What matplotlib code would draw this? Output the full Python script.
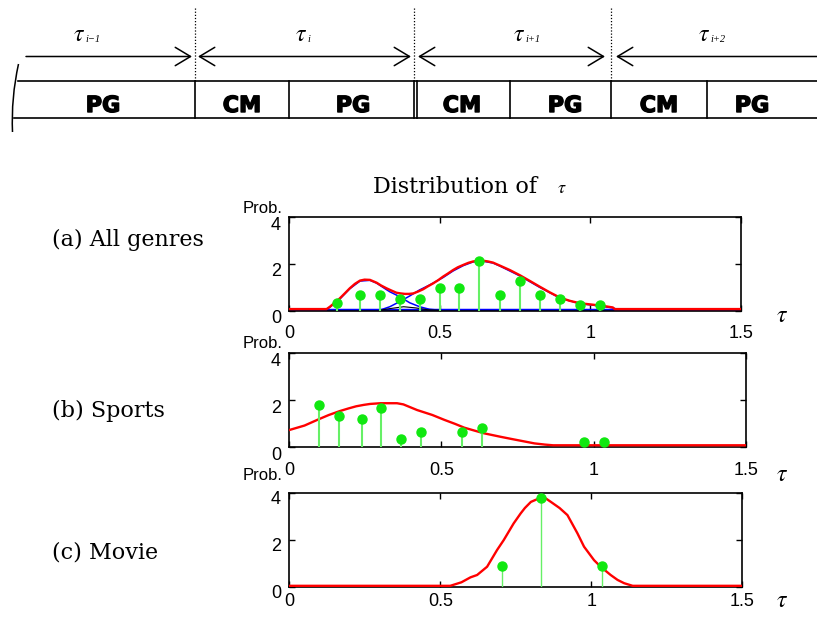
import matplotlib
matplotlib.use('Agg')
import matplotlib.pyplot as plt
import matplotlib.transforms as mtransforms
import matplotlib.patheffects as pe
from matplotlib.path import Path
from matplotlib.patches import PathPatch

# ---- data ----
# (a) All genres
a_tau = [0.16, 0.236, 0.302, 0.368, 0.435, 0.50, 0.565, 0.63, 0.70, 0.768, 0.834, 0.90, 0.966, 1.032]
a_prob = [0.35, 0.67, 0.67, 0.52, 0.49, 0.98, 0.98, 2.13, 0.67, 1.29, 0.67, 0.52, 0.23, 0.23]
a_fit_tau = [0, 0.124, 0.135, 0.15, 0.168, 0.185, 0.201, 0.218, 0.235, 0.25, 0.268, 0.29, 0.305,
             0.323, 0.34, 0.356, 0.37, 0.384, 0.398, 0.412, 0.428, 0.445, 0.46, 0.478, 0.495,
             0.511, 0.528, 0.544, 0.56, 0.578, 0.595, 0.611, 0.628, 0.644, 0.66, 0.677, 0.70,
             0.733, 0.766, 0.80, 0.832, 0.865, 0.898, 0.93, 0.965, 1.0, 1.02, 1.05, 1.075, 1.081, 1.5]
a_fit_prob = [0.07, 0.07, 0.17, 0.33, 0.53, 0.75, 0.96, 1.15, 1.29, 1.33, 1.32, 1.2, 1.08,
              0.96, 0.86, 0.77, 0.74, 0.72, 0.72, 0.74, 0.82, 0.92, 1.04, 1.17, 1.31,
              1.46, 1.6, 1.74, 1.86, 1.96, 2.05, 2.11, 2.14, 2.14, 2.11, 2.06, 1.93,
              1.74, 1.52, 1.27, 1.03, 0.79, 0.57, 0.43, 0.32, 0.27, 0.24, 0.19, 0.14, 0.07, 0.07]
a_comp1_tau = [0, 0.12, 0.135, 0.168, 0.201, 0.235, 0.268, 0.29, 0.323, 0.334, 0.367, 0.40, 0.433, 0.466, 0.5]
a_comp1_prob = [0.02, 0.02, 0.15, 0.5, 0.94, 1.27, 1.30, 1.18, 0.9, 0.81, 0.6, 0.34, 0.17, 0.06, 0.02]
a_comp2_tau = [0.30, 0.334, 0.367, 0.40, 0.433, 0.466, 0.511, 0.544, 0.578, 0.611, 0.644, 0.677,
               0.70, 0.766, 0.832, 0.898, 0.965, 1.02, 1.075, 1.1, 1.5]
a_comp2_prob = [0.02, 0.17, 0.39, 0.63, 0.89, 1.1, 1.42, 1.70, 1.93, 2.09, 2.12, 2.04,
                1.91, 1.49, 1.0, 0.55, 0.3, 0.22, 0.12, 0.02, 0.02]
a_comp3_tau = [0.30, 0.34, 0.38, 0.42, 0.46, 0.50]
a_comp3_prob = [0.02, 0.10, 0.17, 0.12, 0.04, 0.02]

# (b) Sports
b_tau = [0.097, 0.164, 0.238, 0.303, 0.368, 0.434, 0.566, 0.632, 0.968, 1.034]
b_prob = [1.79, 1.31, 1.17, 1.63, 0.33, 0.64, 0.64, 0.80, 0.19, 0.19]
b_fit_tau = [0, 0.05, 0.097, 0.13, 0.167, 0.195, 0.22, 0.245, 0.266, 0.30, 0.354, 0.375, 0.39,
             0.42, 0.47, 0.51, 0.545, 0.575, 0.61, 0.64, 0.695, 0.73, 0.762, 0.806, 0.84,
             0.867, 1.5]
b_fit_prob = [0.71, 0.9, 1.17, 1.35, 1.52, 1.63, 1.72, 1.78, 1.82, 1.85, 1.85, 1.80, 1.72,
              1.56, 1.35, 1.14, 0.97, 0.81, 0.68, 0.57, 0.42, 0.33, 0.25, 0.14, 0.09,
              0.06, 0.06]

# (c) Movie
c_tau = [0.705, 0.834, 1.035]
c_prob = [0.90, 3.76, 0.90]
c_fit_tau = [0, 0.533, 0.57, 0.60, 0.622, 0.655, 0.688, 0.71, 0.743, 0.766, 0.78, 0.80, 0.82,
             0.849, 0.865, 0.895, 0.921, 0.954, 0.976, 1.009, 1.031, 1.064, 1.087, 1.109, 1.137, 1.5]
c_fit_prob = [0.05, 0.05, 0.2, 0.41, 0.51, 0.86, 1.57, 1.99, 2.7, 3.12, 3.35, 3.61, 3.72,
              3.76, 3.62, 3.35, 3.05, 2.28, 1.71, 1.14, 0.86, 0.51, 0.30, 0.16, 0.05, 0.05]

# top schematic: block boundaries (pixels) and labels
block_edges = [15, 195, 289, 414, 510, 611, 707, 817]
block_labels = ['PG', 'CM', 'PG', 'CM', 'PG', 'CM', 'PG']
label_x = [103, 242, 353, 462, 565, 659, 752]
interval_subs = ['i\u22121', 'i', 'i+1', 'i+2']
interval_x = [79, 301, 519, 704]

plt.rcParams['mathtext.fontset'] = 'stix'

W, H = 817, 617
fig = plt.figure(figsize=(W / 100, H / 100), dpi=100)

# overlay in pixel coordinates for schematic and free text
ax0 = fig.add_axes([0, 0, 1, 1])
ax0.set_xlim(0, W)
ax0.set_ylim(H, 0)
ax0.axis('off')

ytop, ybot = 81, 118
ax0.plot([18, W], [ytop, ytop], color='k', lw=1.2)
ax0.plot([14, W], [ybot, ybot], color='k', lw=1.2)
for x in block_edges[1:-1]:
    ax0.plot([x, x], [ytop, ybot], color='k', lw=1.2)
ax0.plot([417, 417], [ytop, ybot], color='k', lw=1.2)
# left brace
brace = Path([(18.5, 64), (11, 98), (12.5, 132)], [Path.MOVETO, Path.CURVE3, Path.CURVE3])
ax0.add_patch(PathPatch(brace, fc='none', ec='k', lw=1.1))

for lab, x in zip(block_labels, label_x):
    ax0.text(x, 106, lab, ha='center', va='center', fontsize=16, fontweight='bold',
             family='DejaVu Sans',
             path_effects=[pe.withStroke(linewidth=1.0, foreground='k')])

# dotted dividers
for x in [195, 414, 611]:
    ax0.plot([x, x], [8, ytop], color='k', lw=0.9, ls=(0, (1, 1.5)))

# interval arrows
ya = 56.5
arrow_spans = [(26, 192, '->'), (198, 411, '<->'), (418, 605, '<->'), (616, 830, '<-')]
for x0, x1, st in arrow_spans:
    ax0.annotate('', xy=(x1, ya), xytext=(x0, ya), annotation_clip=False,
                 arrowprops=dict(arrowstyle=st + ',head_length=0.55,head_width=0.33',
                                 lw=1.1, color='k', shrinkA=0, shrinkB=0, mutation_scale=20))
for sub, x in zip(interval_subs, interval_x):
    ax0.text(x, 34, r'$\tau$', ha='center', va='center', fontsize=17)
    ax0.text(x + 6, 40, sub, ha='left', va='center', fontsize=7.5,
             family='Liberation Serif', style='italic')

# title and panel labels
ax0.text(373, 193, 'Distribution of', ha='left', va='baseline', fontsize=16, family='DejaVu Serif')
ax0.text(562, 193, r'$\tau$', ha='center', va='baseline', fontsize=13)
for txt, yb in [('(a) All genres', 246), ('(b) Sports', 417), ('(c) Movie', 558)]:
    ax0.text(52, yb, txt, ha='left', va='baseline', fontsize=16, family='DejaVu Serif')

green = '#10e810'
stem_green = '#66f066'

panels = [
    dict(box=(289.3, 217.3, 740.7, 310.7), pts=(a_tau, a_prob), fit=(a_fit_tau, a_fit_prob),
         xpad=10, yshift=6, prob_y=213, tau_y=315, stem_lw=1.5),
    dict(box=(289.3, 352.7, 745.7, 446.7), pts=(b_tau, b_prob), fit=(b_fit_tau, b_fit_prob),
         xpad=11, yshift=7, prob_y=348, tau_y=474, stem_lw=1.5),
    dict(box=(289.3, 492.7, 742.3, 587.0), pts=(c_tau, c_prob), fit=(c_fit_tau, c_fit_prob),
         xpad=4, yshift=5, prob_y=480, tau_y=600, stem_lw=1.0),
]

axes = []
for p in panels:
    l, t, r, b = p['box']
    ax = fig.add_axes([l / W, 1 - b / H, (r - l) / W, (b - t) / H])
    ax.set_xlim(0, 1.5)
    ax.set_ylim(0, 4)
    ax.set_xticks([0, 0.5, 1, 1.5])
    ax.set_xticklabels(['0', '0.5', '1', '1.5'])
    ax.set_yticks([0, 2, 4])
    ax.tick_params(direction='in', top=True, right=True, length=4, width=1,
                   labelsize=13, pad=6)
    ax.tick_params(axis='x', pad=p['xpad'])
    for lab in ax.get_xticklabels() + ax.get_yticklabels():
        lab.set_family('Liberation Sans')
    off = mtransforms.ScaledTranslation(0, -p['yshift'] / 100, fig.dpi_scale_trans)
    for lab in ax.get_yticklabels():
        lab.set_transform(lab.get_transform() + off)
    for s in ax.spines.values():
        s.set_linewidth(1.2)
    axes.append(ax)

    ax0.text(283, p['prob_y'], 'Prob.', ha='right', va='baseline', fontsize=12,
             family='Liberation Sans')
    ax0.text(782, p['tau_y'], r'$\tau$', ha='center', va='center', fontsize=17)

# (a) components and fit
ax = axes[0]
ax.plot([0, 1.5], [0.02, 0.02], color='#0000ff', lw=2.5, zorder=2)
ax.plot(a_comp1_tau, a_comp1_prob, color='#0000ff', lw=1.1, zorder=2)
ax.plot(a_comp2_tau, a_comp2_prob, color='#0000ff', lw=1.1, zorder=2)
ax.plot(a_comp3_tau, a_comp3_prob, color='k', lw=0.8, zorder=2)

for ax, p in zip(axes, panels):
    ft, fp = p['fit']
    ax.plot(ft, fp, color='#ff0000', lw=1.7, zorder=3)
    xs, ys = p['pts']
    ax.vlines(xs, 0, ys, color=stem_green, lw=p['stem_lw'], zorder=4)
    ax.plot(xs, ys, 'o', color=green, ms=6.5, mec=green, zorder=5)

fig.savefig('out.png', dpi=100)
